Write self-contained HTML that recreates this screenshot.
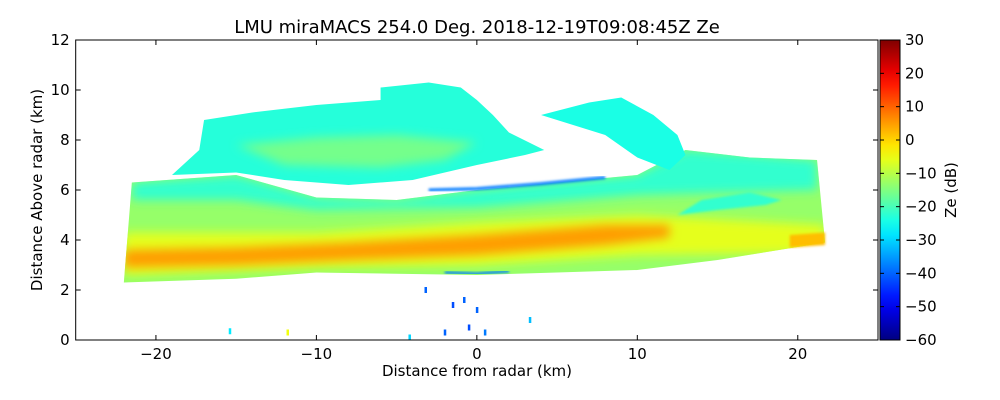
<!DOCTYPE html>
<html><head><meta charset="utf-8"><style>
body{margin:0;background:#fff}
svg{display:block;font-family:"DejaVu Sans","Liberation Sans",sans-serif}
</style></head><body>
<svg id="c" width="1000" height="400" viewBox="0 0 1000 400">
<defs>
<filter id="bl" x="-10%" y="-30%" width="120%" height="160%"><feGaussianBlur stdDeviation="5"/></filter>
<filter id="bl2"><feGaussianBlur stdDeviation="1.2"/></filter>
<clipPath id="lowclip"></clipPath>
<linearGradient id="cbg" x1="0" y1="1" x2="0" y2="0"></linearGradient>
</defs>
<g id="plot"></g>
<g id="axes"></g>
<text x="477" y="33" font-size="18" text-anchor="middle">LMU miraMACS 254.0 Deg. 2018-12-19T09:08:45Z  Ze</text>
<text x="477" y="376" font-size="15" text-anchor="middle">Distance from radar (km)</text>
<text transform="translate(42,190) rotate(-90)" font-size="15" text-anchor="middle">Distance Above radar  (km)</text>
<text transform="translate(956,190) rotate(-90)" font-size="15" text-anchor="middle">Ze (dB)</text>
</svg>
<script>
// ---- data (km, km, dB) ----
const xTicks=[-20,-10,0,10,20];
const yTicks=[0,2,4,6,8,10,12];
const cbTicks=[30,20,10,0,-10,-20,-30,-40,-50,-60];
const lowerBand=[[-22,2.3],[-15,2.45],[-10,2.7],[-5,2.65],[0,2.6],[5,2.7],[10,2.8],[15,3.2],[21.7,3.9],[21.2,7.2],[17,7.3],[13,7.6],[10,6.6],[5,6.3],[0,6.0],[-5,5.6],[-10,5.7],[-15,6.6],[-21.5,6.3]];
const lowerVal=-13;
const lowerTop=[[-21.5,5.6],[-15,5.6],[-10,5.2],[0,5.3],[10,5.8],[21.2,6.0],[21.2,7.2],[13,7.6],[10,6.6],[5,6.3],[0,6.0],[-5,5.6],[-10,5.7],[-15,6.6],[-21.5,6.3]];
const lowerTopVal=-22;
const upperLayer=[[-17.3,7.6],[-17,8.8],[-14,9.1],[-10,9.4],[-6,9.6],[-6,10.1],[-3,10.3],[-1,10.1],[0,9.6],[1,9.0],[2,8.3],[4.2,7.6],[3,7.4],[0,7.0],[-4,6.4],[-8,6.2],[-12,6.4],[-15,6.7],[-19,6.6]];
const upperVal=-23;
const rightPatch=[[4,9.0],[7,9.5],[9,9.7],[11,9.0],[12.5,8.2],[13,7.4],[12,6.8],[10,7.3],[8,8.2],[6,8.6]];
const rightVal=-24;
const upperCore=[[-15,7.8],[-10,8.1],[-5,8.2],[0,7.9],[-2,7.2],[-6,6.9],[-12,7.0]];
const upperCoreVal=-16;
const haloBand=[[-22,2.6],[-10,2.9],[0,3.0],[10,3.4],[21.7,3.5],[21.7,4.6],[10,5.0],[0,4.7],[-10,4.3],[-22,4.3]];
const haloVal=-6;
const coreBand=[[-22,2.9],[-15,3.0],[-8,3.2],[0,3.4],[8,3.8],[12,4.1],[12,4.6],[8,4.6],[0,4.2],[-8,3.9],[-15,3.7],[-22,3.6]];
const coreVal=5;
const rightCore=[[19.5,3.7],[21.7,3.8],[21.7,4.3],[19.5,4.2]];
const rightCoreVal=2;
const rightGap=[[12.5,5.0],[15,5.2],[18,5.4],[19,5.6],[17,5.9],[14,5.6]];
const rightGapVal=-22;
const blueEdge=[[-3,6.0],[0,6.05],[4,6.25],[8,6.5]];
const blueBottom=[[-2,2.7],[0,2.65],[2,2.75]];
const blueVal=-38;
const specks=[[-1.5,1.4,-42],[-2,0.3,-40],[-0.5,0.5,-42],[0,1.2,-40],[-3.2,2.0,-40],[-15.4,0.35,-28],[-11.8,0.3,-5],[3.3,0.8,-32],[-4.2,0.1,-30],[0.5,0.3,-38],[-0.8,1.6,-40]];

// ---- axes functions ----
const X0=75.7,X1=878,Y0=340,Y1=40;
const sx=v=>X0+(v+25)/50*(X1-X0);
const sy=v=>Y0-v/12*(Y0-Y1);
const NS='http://www.w3.org/2000/svg';
function jet(v){const t=Math.max(0,Math.min(1,(v+60)/90));const c=x=>Math.round(255*Math.max(0,Math.min(1,1.5-Math.abs(4*t-x))));return `rgb(${c(3)},${c(2)},${c(1)})`;}
function mk(tag,attrs,parent){const e=document.createElementNS(NS,tag);for(const k in attrs)e.setAttribute(k,attrs[k]);parent.appendChild(e);return e;}
const plot=document.getElementById('plot'),axes=document.getElementById('axes');
const pstr=pts=>pts.map(p=>sx(p[0])+','+sy(p[1])).join(' ');
mk('polygon',{points:pstr(lowerBand)},document.getElementById('lowclip'));
function poly(pts,val,name,filt,clip){const e=mk('polygon',{points:pstr(pts),fill:jet(val)},plot);


if(filt)e.setAttribute('filter',filt);
if(clip)e.setAttribute('clip-path','url(#lowclip)');return e;}
poly(lowerBand,lowerVal,'lower-echo-layer');
poly(lowerTop,lowerTopVal,'lower-layer-top','url(#bl)',true);
poly(upperLayer,upperVal,'upper-echo-layer');
poly(rightPatch,rightVal,'right-upper-echo');
poly(upperCore,upperCoreVal,'upper-layer-core','url(#bl)');
poly(haloBand,haloVal,'melting-halo','url(#bl)',true);
poly(coreBand,coreVal,'bright-band-core','url(#bl)',true);
poly(rightCore,rightCoreVal,'right-bright-core','url(#bl2)');
poly(rightGap,rightGapVal,'right-cyan-streak','url(#bl2)');
function line(pts,val,name,w){const e=mk('polyline',{points:pstr(pts),fill:'none',stroke:jet(val),'stroke-width':w},plot);


e.setAttribute('filter','url(#bl2)');}
line(blueEdge,blueVal,'blue-top-edge',3);
line(blueBottom,blueVal,'blue-bottom-edge',2.5);
specks.forEach(s=>{const e=mk('rect',{x:sx(s[0])-1,y:sy(s[1])-3,width:2.5,height:6,fill:jet(s[2])},plot);

});

const fr=mk('rect',{x:X0,y:Y1,width:X1-X0,height:Y0-Y1,fill:'none',stroke:'#000','stroke-width':1},axes);


xTicks.forEach(v=>{const x=sx(v);
mk('line',{x1:x,x2:x,y1:Y0,y2:Y0-5,stroke:'#000'},axes);mk('line',{x1:x,x2:x,y1:Y1,y2:Y1+5,stroke:'#000'},axes);
const t=mk('text',{x:x,y:Y0+19,'font-size':15,'text-anchor':'middle'},axes);t.textContent=(v<0?'\u2212':'')+Math.abs(v);

});
yTicks.forEach(v=>{const y=sy(v);
mk('line',{x1:X0,x2:X0+5,y1:y,y2:y,stroke:'#000'},axes);mk('line',{x1:X1,x2:X1-5,y1:y,y2:y,stroke:'#000'},axes);
const t=mk('text',{x:X0-6,y:y+5,'font-size':15,'text-anchor':'end'},axes);t.textContent=v;

});
const g=document.getElementById('cbg');
for(let i=0;i<=20;i++){mk('stop',{offset:(i/20),'stop-color':jet(-60+90*i/20)},g);}
const CB0=880,CB1=900;
const cb=mk('rect',{x:CB0,y:Y1,width:CB1-CB0,height:Y0-Y1,fill:'url(#cbg)',stroke:'#000'},axes);


const cy=v=>Y0-(v+60)/90*(Y0-Y1);
cbTicks.forEach(v=>{const y=cy(v);
mk('line',{x1:CB0,x2:CB0+4,y1:y,y2:y,stroke:'#000'},axes);mk('line',{x1:CB1,x2:CB1-4,y1:y,y2:y,stroke:'#000'},axes);
const t=mk('text',{x:905,y:y+5,'font-size':15},axes);t.textContent=(v<0?'\u2212':'')+Math.abs(v);

});
</script>
</body></html>
